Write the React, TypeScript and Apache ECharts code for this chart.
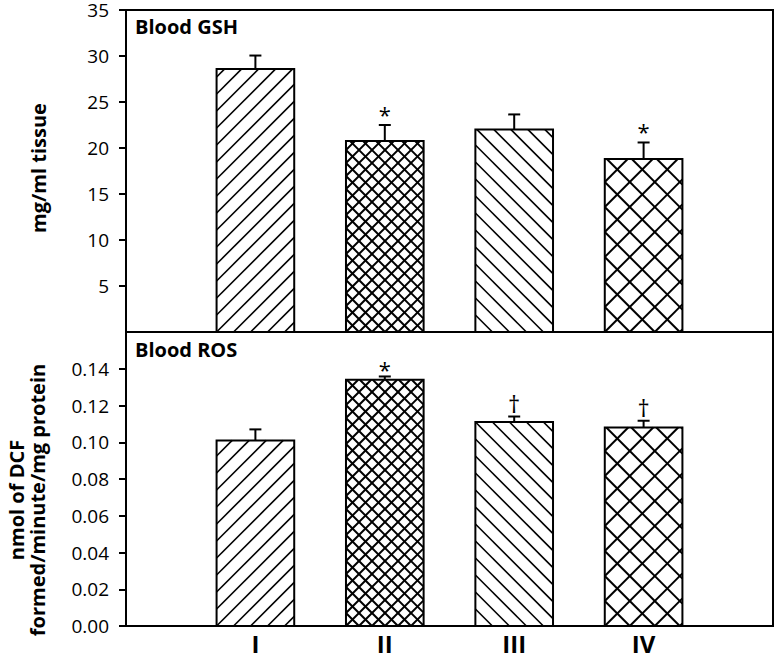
import React, { useEffect, useRef } from "react";
import * as echarts from "echarts";

// ---- data ----
const groups = ["I", "II", "III", "IV"];
const gshMean = [28.6, 20.75, 22.0, 18.8];
const gshErr = [1.45, 1.75, 1.65, 1.8];
const gshMarks = ["", "*", "", "*"];
const rosMean = [0.101, 0.134, 0.111, 0.108];
const rosErr = [0.006, 0.0018, 0.003, 0.0037];
const rosMarks = ["", "*", "†", "†"];
const gshTicks = [5, 10, 15, 20, 25, 30, 35];
const rosTicks = [0, 0.02, 0.04, 0.06, 0.08, 0.1, 0.12, 0.14];

// ---- styles ----
const FONT = "'Open Sans', 'Noto Sans', sans-serif";
// hatch per group: kind and horizontal spacing (px)
const hatchStyle = [
  { fwd: true, back: false, s: 17, w: 1.6 },
  { fwd: true, back: true, s: 13, w: 2 },
  { fwd: false, back: true, s: 17, w: 1.6 },
  { fwd: true, back: true, s: 25, w: 2 },
];

const cats = ["", ...groups, ""];

function makeRender(means: number[], errs: number[], marks: string[], starOffset: number) {
  return (params: any, api: any) => {
    const i = params.dataIndex;
    const xi = api.value(0);
    const m = means[i];
    const e = errs[i];
    const base = api.coord([xi, 0]);
    const top = api.coord([xi, m]);
    const cap = api.coord([xi, m + e]);
    const w = api.size([1, 0])[0] * 0.6;
    const x0 = base[0] - w / 2;
    const x1 = base[0] + w / 2;
    const y0 = top[1];
    const y1 = base[1];
    const hs = hatchStyle[i];
    const children: any[] = [];
    children.push({
      type: "rect",
      shape: { x: x0, y: y0, width: w, height: y1 - y0 },
      style: { fill: "#fff", stroke: null },
    });
    const lineStyle = { stroke: "#000", lineWidth: hs.w };
    if (hs.fwd) {
      // x + y = c  ("/")
      const b = x0 + y1;
      const kmin = Math.floor((x0 + y0 - b) / hs.s);
      const kmax = Math.ceil((x1 + y1 - b) / hs.s);
      for (let k = kmin; k <= kmax; k++) {
        const c = b + k * hs.s;
        const xs = Math.max(x0, c - y1);
        const xe = Math.min(x1, c - y0);
        if (xe - xs > 0.5) {
          children.push({
            type: "line",
            shape: { x1: xs, y1: c - xs, x2: xe, y2: c - xe },
            style: lineStyle,
          });
        }
      }
    }
    if (hs.back) {
      // x - y = c  ("\")
      const b = x0 - y1;
      const kmin = Math.floor((x0 - y1 - b) / hs.s);
      const kmax = Math.ceil((x1 - y0 - b) / hs.s);
      for (let k = kmin; k <= kmax; k++) {
        const c = b + k * hs.s;
        const xs = Math.max(x0, c + y0);
        const xe = Math.min(x1, c + y1);
        if (xe - xs > 0.5) {
          children.push({
            type: "line",
            shape: { x1: xs, y1: xs - c, x2: xe, y2: xe - c },
            style: lineStyle,
          });
        }
      }
    }
    children.push({
      type: "rect",
      shape: { x: x0, y: y0, width: w, height: y1 - y0 },
      style: { fill: null, stroke: "#000", lineWidth: 2 },
    });
    children.push({
      type: "line",
      shape: { x1: base[0], y1: y0, x2: base[0], y2: cap[1] },
      style: { stroke: "#000", lineWidth: 2 },
    });
    children.push({
      type: "line",
      shape: { x1: base[0] - 6, y1: cap[1], x2: base[0] + 6, y2: cap[1] },
      style: { stroke: "#000", lineWidth: 2 },
    });
    if (marks[i]) {
      const isStar = marks[i] === "*";
      children.push({
        type: "text",
        x: base[0],
        y: cap[1] - (isStar ? starOffset : 13),
        style: {
          text: marks[i],
          fontSize: isStar ? 22 : 24,
          fontFamily: FONT,
          fill: "#000",
          align: "center",
          verticalAlign: "middle",
        },
      });
    }
    return { type: "group", children };
  };
}

export default function App() {
  const ref = useRef<HTMLDivElement>(null);
  useEffect(() => {
    if (!ref.current) return;
    const chart = echarts.init(ref.current, null, { renderer: "svg" });
    const axisLineStyle = { color: "#000", width: 2 };
    const option: any = {
      animation: false,
      backgroundColor: "#fff",
      grid: [
        { left: 126, right: 4, top: 10, height: 322, show: true, borderColor: "#000", borderWidth: 2, backgroundColor: "transparent" },
        { left: 126, right: 4, top: 332, height: 294, show: true, borderColor: "#000", borderWidth: 2, backgroundColor: "transparent" },
      ],
      xAxis: [
        {
          gridIndex: 0,
          type: "category",
          data: cats,
          boundaryGap: false,
          axisLine: { show: false },
          axisTick: { show: false },
          axisLabel: { show: false },
          splitLine: { show: false },
        },
        {
          gridIndex: 1,
          type: "category",
          data: cats,
          boundaryGap: false,
          axisLine: { show: true, lineStyle: axisLineStyle },
          axisTick: { show: false },
          axisLabel: { show: true, fontSize: 24, lineHeight: 20, fontWeight: "bold", color: "#000", fontFamily: FONT, margin: 7, interval: 0 },
          splitLine: { show: false },
        },
      ],
      yAxis: [
        {
          gridIndex: 0,
          type: "value",
          min: 0,
          max: 35,
          interval: 5,
          axisLine: { show: true, lineStyle: axisLineStyle },
          axisTick: { show: true, length: 7, lineStyle: axisLineStyle, customValues: gshTicks },
          axisLabel: { show: true, fontSize: 19, lineHeight: 14, color: "#000", fontFamily: FONT, margin: 17, customValues: gshTicks, formatter: (v: number) => String(v) },
          splitLine: { show: false },
        },
        {
          gridIndex: 1,
          type: "value",
          min: 0,
          max: 0.16,
          interval: 0.02,
          axisLine: { show: true, lineStyle: axisLineStyle },
          axisTick: { show: true, length: 7, lineStyle: axisLineStyle, customValues: rosTicks },
          axisLabel: { show: true, fontSize: 19, lineHeight: 14, color: "#000", fontFamily: FONT, margin: 17, customValues: rosTicks, formatter: (v: number) => v.toFixed(2) },
          splitLine: { show: false },
        },
      ],
      series: [
        {
          type: "custom",
          xAxisIndex: 0,
          yAxisIndex: 0,
          data: groups.map((g, i) => [i + 1, gshMean[i]]),
          renderItem: makeRender(gshMean, gshErr, gshMarks, 11),
          encode: { x: 0, y: 1 },
          clip: false,
        },
        {
          type: "custom",
          xAxisIndex: 1,
          yAxisIndex: 1,
          data: groups.map((g, i) => [i + 1, rosMean[i]]),
          renderItem: makeRender(rosMean, rosErr, rosMarks, 7),
          encode: { x: 0, y: 1 },
          clip: false,
        },
      ],
      graphic: [
        { type: "text", left: 135, top: 16, style: { text: "Blood GSH", fontSize: 20, fontWeight: "bold", fontFamily: FONT, fill: "#000" } },
        { type: "text", left: 135, top: 339, style: { text: "Blood ROS", fontSize: 20, fontWeight: "bold", fontFamily: FONT, fill: "#000" } },
        {
          type: "text",
          x: 38,
          y: 168,
          rotation: Math.PI / 2,
          style: { text: "mg/ml tissue", fontSize: 20, fontWeight: "bold", fontFamily: FONT, fill: "#000", align: "center", verticalAlign: "middle" },
        },
        {
          type: "text",
          x: 27,
          y: 500,
          rotation: Math.PI / 2,
          style: { text: "nmol of DCF\nformed/minute/mg protein", fontSize: 20, lineHeight: 21, fontWeight: "bold", fontFamily: FONT, fill: "#000", align: "center", verticalAlign: "middle" },
        },
      ],
    };
    chart.setOption(option);
    return () => chart.dispose();
  }, []);
  return (
    <div
      ref={ref}
      style={{ position: "fixed", left: 0, top: 0, width: 777, height: 658, background: "#fff" }}
    />
  );
}
